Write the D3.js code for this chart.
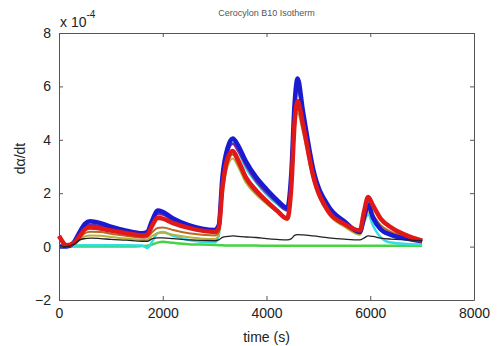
<!DOCTYPE html>
<html>
<head>
<meta charset="utf-8">
<script src="https://cdn.jsdelivr.net/npm/d3@7"></script>
<style>
body { margin: 0; background: #fff; }
svg { font-family: "Liberation Sans", Arial, sans-serif; }
</style>
</head>
<body>
<svg id="chart" width="499" height="346"></svg>
<script>
// time samples (s)
var times = [0,150,300,400,500,600,800,1000,1300,1600,1700,1800,1900,2000,2200,2500,3000,3080,3150,3250,3350,3450,3600,3800,4000,4200,4400,4480,4540,4600,4700,4900,5200,5500,5800,5880,5960,6050,6200,6400,6700,7000];

// d(alpha)/dt values, x 1e-4
var greenVals  = [0,0,0,0,0,0,0,0,0,0.02,0.03,0.08,0.15,0.18,0.14,0.09,0.06,0.05,0.05,0.04,0.04,0.04,0.04,0.04,0.03,0.03,0.03,0.03,0.03,0.03,0.03,0.03,0.03,0.03,0.03,0.03,0.03,0.03,0.03,0.03,0.03,0.03];
var cyanVals   = [0,0,0.03,0.05,0.05,0.05,0.05,0.05,0.05,0.04,-0.05,0.2,0.5,0.55,0.4,0.25,0.15,0.4,2.4,3.6,3.9,3.6,2.95,2.4,1.95,1.6,1.35,2.7,5.1,6.0,4.9,2.8,1.4,0.85,0.45,0.9,1.2,0.8,0.35,0.15,0.1,0.08];
var oliveVals  = [0,0,0.08,0.25,0.38,0.42,0.41,0.36,0.3,0.25,0.26,0.4,0.5,0.52,0.44,0.35,0.28,0.45,1.9,3.0,3.3,3.0,2.4,1.95,1.6,1.3,1.0,2.1,4.2,5.0,4.3,2.5,1.2,0.75,0.45,0.9,1.3,1.05,0.7,0.45,0.3,0.18];
var orangeVals = [0,0,0.1,0.3,0.5,0.56,0.55,0.48,0.4,0.33,0.35,0.55,0.7,0.72,0.62,0.5,0.42,0.55,2.0,3.1,3.45,3.1,2.5,2.0,1.65,1.3,1.05,2.2,4.4,5.2,4.5,2.6,1.3,0.8,0.5,1.0,1.45,1.2,0.8,0.55,0.35,0.2];
var purpleVals = [0,0,0.15,0.45,0.72,0.82,0.76,0.66,0.55,0.46,0.5,0.9,1.22,1.2,0.98,0.74,0.58,0.75,2.4,3.5,3.85,3.6,3.05,2.45,2.02,1.65,1.35,2.6,5.0,5.9,4.9,2.8,1.4,0.85,0.55,1.0,1.45,1.05,0.62,0.42,0.28,0.2];
var blueVals   = [0,0,0.2,0.55,0.85,0.95,0.88,0.75,0.6,0.5,0.55,1.0,1.35,1.3,1.05,0.8,0.62,0.8,2.6,3.7,4.05,3.8,3.2,2.6,2.15,1.75,1.45,2.8,5.3,6.3,5.1,2.9,1.5,0.95,0.55,1.1,1.58,1.1,0.65,0.44,0.3,0.2];
var redVals    = [0.4,0.05,0.15,0.4,0.65,0.72,0.68,0.6,0.5,0.42,0.45,0.8,1.08,1.05,0.88,0.7,0.55,0.7,2.2,3.3,3.58,3.25,2.6,2.1,1.7,1.35,1.05,2.3,4.6,5.45,4.6,2.65,1.3,0.85,0.6,1.3,1.86,1.55,1.05,0.72,0.42,0.22];
var blackVals  = [0,0,0.1,0.25,0.3,0.32,0.3,0.27,0.24,0.2,0.2,0.3,0.33,0.33,0.3,0.25,0.22,0.25,0.35,0.38,0.4,0.38,0.36,0.34,0.3,0.27,0.25,0.3,0.42,0.45,0.44,0.4,0.33,0.28,0.25,0.32,0.4,0.38,0.32,0.28,0.25,0.22];

var xTicks = [0,2000,4000,6000,8000];
var yTicks = [-2,0,2,4,6,8];

var svg = d3.select("#chart");
var margin = {top: 33, right: 25, bottom: 46, left: 59},
    width = 499 - margin.left - margin.right,
    height = 346 - margin.top - margin.bottom;

var g = svg.append("g")
    .attr("transform", "translate(" + margin.left + "," + margin.top + ")");

var x = d3.scaleLinear().domain([0, 8000]).range([0, width]);
var y = d3.scaleLinear().domain([-2, 8]).range([height, 0]);

// series, drawn bottom to top
var series = [
  {vals: greenVals,  color: "#44d444", w: 2.5},
  {vals: cyanVals,   color: "#33dde6", w: 2.5},
  {vals: oliveVals,  color: "#b8b040", w: 2},
  {vals: orangeVals, color: "#b86a20", w: 2},
  {vals: purpleVals, color: "#7a2a9a", w: 2.5},
  {vals: blueVals,   color: "#1a1ad0", w: 4.5},
  {vals: redVals,    color: "#e01818", w: 4.5},
  {vals: blackVals,  color: "#222222", w: 1.3}
];

var line = d3.line()
    .x(function(d) { return x(d[0]); })
    .y(function(d) { return y(d[1]); })
    .curve(d3.curveMonotoneX);

series.forEach(function(s) {
  g.append("path")
    .datum(times.map(function(t, i) { return [t, s.vals[i]]; }))
    .attr("fill", "none")
    .attr("stroke", s.color)
    .attr("stroke-width", s.w)
    .attr("stroke-linejoin", "round")
    .attr("d", line);
});

// axes with inward ticks, box around
g.append("g")
    .attr("transform", "translate(0," + height + ")")
    .call(d3.axisBottom(x).tickValues(xTicks).tickFormat(d3.format("d"))
      .tickSizeInner(-4).tickSizeOuter(0).tickPadding(8));
g.append("g")
    .call(d3.axisTop(x).tickValues(xTicks).tickSizeInner(-4).tickSizeOuter(0).tickFormat(""));
g.append("g")
    .call(d3.axisLeft(y).tickValues(yTicks).tickSizeInner(-4).tickSizeOuter(0).tickPadding(8));
g.append("g")
    .attr("transform", "translate(" + width + ",0)")
    .call(d3.axisRight(y).tickValues(yTicks).tickSizeInner(-4).tickSizeOuter(0).tickFormat(""));

g.selectAll(".domain").attr("stroke", "#555");
g.selectAll(".tick line").attr("stroke", "#555");
g.selectAll(".tick text").attr("font-size", 14).attr("fill", "#222");

// exponent label
var ex = svg.append("text")
    .attr("x", 60)
    .attr("y", 27)
    .attr("font-size", 14)
    .attr("fill", "#222");
ex.append("tspan").text("x 10");
ex.append("tspan").attr("dy", -9).attr("font-size", 10).text("-4");

// title
svg.append("text")
    .attr("x", margin.left + width / 2)
    .attr("y", 16)
    .attr("text-anchor", "middle")
    .attr("font-size", 9)
    .attr("fill", "#555")
    .text("Cerocylon B10 Isotherm");

// axis labels
svg.append("text")
    .attr("x", margin.left + width / 2)
    .attr("y", 342)
    .attr("text-anchor", "middle")
    .attr("font-size", 14)
    .attr("fill", "#222")
    .text("time (s)");

svg.append("text")
    .attr("transform", "translate(25," + (margin.top + height / 2 - 8) + ") rotate(-90)")
    .attr("text-anchor", "middle")
    .attr("font-size", 14)
    .attr("fill", "#222")
    .text("dα/dt");
</script>
</body>
</html>
